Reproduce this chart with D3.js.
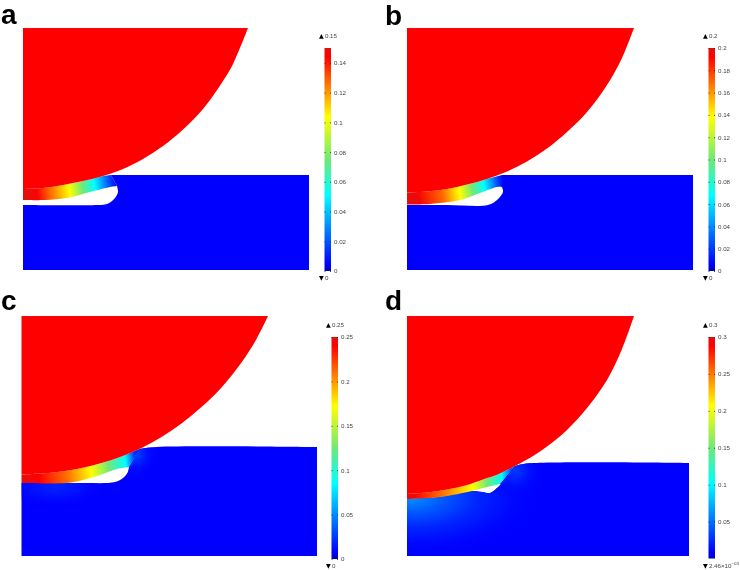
<!DOCTYPE html>
<html>
<head>
<meta charset="utf-8">
<script src="https://cdn.jsdelivr.net/npm/d3@7"></script>
<style>
  html, body { margin: 0; padding: 0; background: #fff; }
  svg { display: block; filter: blur(0.35px); }
</style>
</head>
<body>
<div id="chart"></div>
<script>
// colour bar maxima and ticks
const maxA = 0.15, maxB = 0.2, maxC = 0.25, maxD = 0.3
const ticksA = [0, 0.02, 0.04, 0.06, 0.08, 0.1, 0.12, 0.14]
const ticksB = [0, 0.02, 0.04, 0.06, 0.08, 0.1, 0.12, 0.14, 0.16, 0.18, 0.2]
const ticksC = [0, 0.05, 0.1, 0.15, 0.2, 0.25]
const ticksD = [0.05, 0.1, 0.15, 0.2, 0.25, 0.3]

// red indenter outline, [distance from left edge, height above block bottom]
const punchA = [[225,242],[210,206],[200,189],[180,161],[160,140.5],[140,124],[120,111],[100,101],[80,94],[60,89],[40,85],[20,82],[0,81]]
const punchB = [[227,242],[215,212],[200,185],[180,158],[160,138],[140,121.5],[120,108.5],[100,98.5],[80,91],[60,85.5],[40,81],[20,78.5],[0,77.5]]
const punchC = [[246.5,240],[235,217],[220,193.5],[200,168.5],[180,149],[160,132.5],[140,119],[120,108],[100,99.5],[80,93],[60,88],[40,84.5],[20,82.5],[0,81.5]]
const punchD = [[227,240],[215,207],[200,176],[180,148],[160,126],[146,114],[126,100],[108,90],[93,82.5],[76,76.5],[60,71],[40,66.5],[20,63.5],[0,62]]

// underside of the flap, left to nose
const underA = [[0,70],[22,70],[44,72],[67,78],[87,83],[94,84]]
const underB = [[0,65.5],[23,66],[53,70],[73,77],[90,83],[95,83]]
const underC = [[0,73],[45.5,73],[61.5,76],[78.5,81],[95.5,87],[107.5,89]]
const underD = [[0,57],[33,59],[65,65],[76,68],[93,72]]

// nose of the slit and its floor, nose to left
const floorA = [[94,84],[95,78],[92,72],[84,66],[74,65],[0,65]]
const floorB = [[95,83],[96,78],[90,70],[81,65],[40,65],[0,65]]
const floorC = [[107.5,89],[106.5,84],[101.5,78],[93.5,74],[58.5,73],[0,73]]
const floorD = [[93,72],[94,72],[89,67],[83,63],[75,64],[65,65],[33,59],[0,57]]

// top edge of the block, join with the indenter to the right side
const topA = [[88,95],[286,95]]
const topB = [[95,95],[286,95]]
const topC = [[118,107],[135,109],[295.5,109]]
const topD = [[108,90],[120,92.5],[282,93]]

// field along the flap: position and value
const flapXA = [0, 15, 27, 47, 60, 72, 90, 97]
const flapVA = [0.15, 0.145, 0.128, 0.103, 0.075, 0.051, 0.012, 0]
const flapXB = [0, 13, 36, 53, 66, 78, 95, 100]
const flapVB = [0.2, 0.195, 0.17, 0.138, 0.1, 0.068, 0.012, 0]
const flapXC = [0, 18, 46, 70, 88, 105, 115, 122]
const flapVC = [0.25, 0.24, 0.21, 0.172, 0.125, 0.085, 0.02, 0]
const flapXD = [0, 8, 33, 66, 81, 96, 108, 115]
const flapVD = [0.3, 0.29, 0.255, 0.207, 0.15, 0.102, 0.025, 0.0025]

// values in the block around the flap root and around the nose
const glowRootC = [0.018, 0.012, 0]
const glowNoseC = [0.03, 0.012, 0]
const glowRootD = [0.062, 0.04, 0.022, 0.012, 0]
const glowNoseD = [0.03, 0.014, 0]

const jetT = [0, 0.03, 0.34, 0.5, 0.69, 0.96, 1]
const jetC = ['#0000b8', '#0000ff', '#00ffff', '#70e878', '#ffff00', '#ff0000', '#e01010']
const jet = d3.scaleLinear().domain(jetT).range(jetC)
const fieldColor = t => jet(Math.max(t, 0.03))

const panels = [
  { name: 'a', lx: 1, ly: 24, left: 23, bottom: 270, w: 286, h: 242, barL: 324.5, barT: 48, barB: 271, max: maxA, ticks: ticksA,
    minLabel: '0', punch: punchA, under: underA, floor: floorA, top: topA, fx: flapXA, fv: flapVA, glows: [] },
  { name: 'b', lx: 385, ly: 25, left: 407, bottom: 270, w: 286, h: 242, barL: 708.5, barT: 48, barB: 271, max: maxB, ticks: ticksB,
    minLabel: '0', punch: punchB, under: underB, floor: floorB, top: topB, fx: flapXB, fv: flapVB, glows: [] },
  { name: 'c', lx: 1, ly: 310, left: 21.5, bottom: 556, w: 296, h: 240, barL: 331.5, barT: 337, barB: 559, max: maxC, ticks: ticksC,
    minLabel: '0', punch: punchC, under: underC, floor: floorC, top: topC, fx: flapXC, fv: flapVC,
    glows: [{ x: 34, y: 70, rx: 50, ry: 22, v: glowRootC }, { x: 113, y: 102, rx: 26, ry: 26, v: glowNoseC }] },
  { name: 'd', lx: 385, ly: 310, left: 407, bottom: 556, w: 282, h: 240, barL: 708.5, barT: 337, barB: 558.5, max: maxD, ticks: ticksD,
    minLabel: '2.46×10', minSup: '−03', punch: punchD, under: underD, floor: floorD, top: topD, fx: flapXD, fv: flapVD,
    glows: [{ x: 4, y: 58, rx: 135, ry: 60, v: glowRootD }, { x: 108, y: 85, rx: 30, ry: 30, v: glowNoseD }] }
]

const svg = d3.select('#chart').append('svg').attr('width', 740).attr('height', 570)
const defs = svg.append('defs')
const barW = 6.5

panels.forEach(p => {
  const x = d3.scaleLinear().domain([0, p.w]).range([p.left, p.left + p.w])
  const y = d3.scaleLinear().domain([0, p.h]).range([p.bottom, p.bottom - p.h])
  const g = svg.append('g')

  const curve = d3.line().x(d => x(d[0])).y(d => y(d[1])).curve(d3.curveCatmullRom)
  const join = (...parts) => parts.map((pts, i) => {
    const s = curve(pts)
    return i ? 'L' + s.slice(1) : s
  }).join('') + 'Z'

  // block
  const right = p.top[p.top.length - 1][0]
  const blockPath = join([[0, 0], [right, 0]], p.top.slice().reverse(), p.floor)
  g.append('path').attr('d', blockPath).attr('fill', '#0000ff')

  p.glows.forEach((gl, i) => {
    const id = `glow-${p.name}-${i}`
    const grad = defs.append('radialGradient').attr('id', id)
      .attr('gradientUnits', 'userSpaceOnUse').attr('cx', 0).attr('cy', 0).attr('r', 1)
      .attr('gradientTransform', `translate(${x(gl.x)},${y(gl.y)}) scale(${gl.rx},${gl.ry})`)
    gl.v.forEach((v, k) => {
      grad.append('stop').attr('offset', k / (gl.v.length - 1))
        .attr('stop-color', fieldColor(v / p.max))
        .attr('stop-opacity', k === gl.v.length - 1 ? 0 : 1)
    })
    g.append('path').attr('d', blockPath).attr('fill', `url(#${id})`)
  })

  // flap, coloured along its length, isolines square to the band
  const flapId = `flap-${p.name}`
  const noseUnder = p.under[p.under.length - 1]
  const flapGrad = defs.append('linearGradient').attr('id', flapId)
    .attr('gradientUnits', 'userSpaceOnUse')
    .attr('x1', x(p.fx[0])).attr('x2', x(p.fx[p.fx.length - 1]))
    .attr('y1', y(p.under[0][1])).attr('y2', y(noseUnder[1]))
  const span = p.fx[p.fx.length - 1] - p.fx[0]
  p.fx.forEach((fx, i) => {
    flapGrad.append('stop').attr('offset', (fx - p.fx[0]) / span).attr('stop-color', fieldColor(p.fv[i] / p.max))
  })
  const joinX = p.top[0][0]
  const flapTop = p.punch.slice().reverse().filter(d => d[0] <= joinX)
  g.append('path')
    .attr('d', join(flapTop, [p.top[0], noseUnder], p.under.slice().reverse()))
    .attr('fill', `url(#${flapId})`)

  // indenter
  g.append('path')
    .attr('d', join([[0, p.h], p.punch[0]], p.punch))
    .attr('fill', '#ff0000')

  // colour bar
  const barScale = d3.scaleLinear().domain([0, p.max]).range([p.barB, p.barT])
  const barId = `bar-${p.name}`
  const barGrad = defs.append('linearGradient').attr('id', barId)
    .attr('x1', 0).attr('x2', 0).attr('y1', 1).attr('y2', 0)
  jetT.forEach((t, i) => barGrad.append('stop').attr('offset', t).attr('stop-color', jetC[i]))
  g.append('rect').attr('x', p.barL).attr('y', p.barT).attr('width', barW).attr('height', p.barB - p.barT)
    .attr('fill', `url(#${barId})`)

  const axis = d3.axisRight(barScale).tickValues(p.ticks).tickFormat(String).tickSize(barW).tickPadding(3)
  const ax = g.append('g').attr('transform', `translate(${p.barL},0)`).call(axis)
  ax.select('.domain').remove()
  ax.selectAll('line').attr('stroke', '#223').attr('stroke-width', 0.8).attr('stroke-dasharray', `1 ${barW - 2} 1`)
  ax.selectAll('text').attr('font-family', 'Liberation Sans').attr('font-size', 6.2).attr('fill', '#444')
  ax.attr('font-family', null).attr('font-size', null)

  // max and min readouts
  const topLabel = g.append('text').attr('x', p.barL - 5.5).attr('y', p.barT - 10.5)
    .attr('font-family', 'Liberation Sans').attr('font-size', 6.2).attr('fill', '#444')
  topLabel.append('tspan').attr('fill', '#000').attr('font-family', 'DejaVu Sans').text('▲')
  topLabel.append('tspan').attr('dx', 1.2).text(p.max)

  const minLabel = g.append('text').attr('x', p.barL - 5.5).attr('y', p.barB + 9)
    .attr('font-family', 'Liberation Sans').attr('font-size', 6.2).attr('fill', '#444')
  minLabel.append('tspan').attr('fill', '#000').attr('font-family', 'DejaVu Sans').text('▼')
  minLabel.append('tspan').attr('dx', 1.2).text(p.minLabel)
  if (p.minSup) minLabel.append('tspan').attr('dy', -2.5).attr('font-size', 4.4).text(p.minSup)

  // panel letter
  svg.append('text').attr('x', p.lx).attr('y', p.ly)
    .attr('font-family', 'Liberation Sans').attr('font-weight', 'bold').attr('font-size', 28)
    .attr('fill', '#000').text(p.name)
})
</script>
</body>
</html>
